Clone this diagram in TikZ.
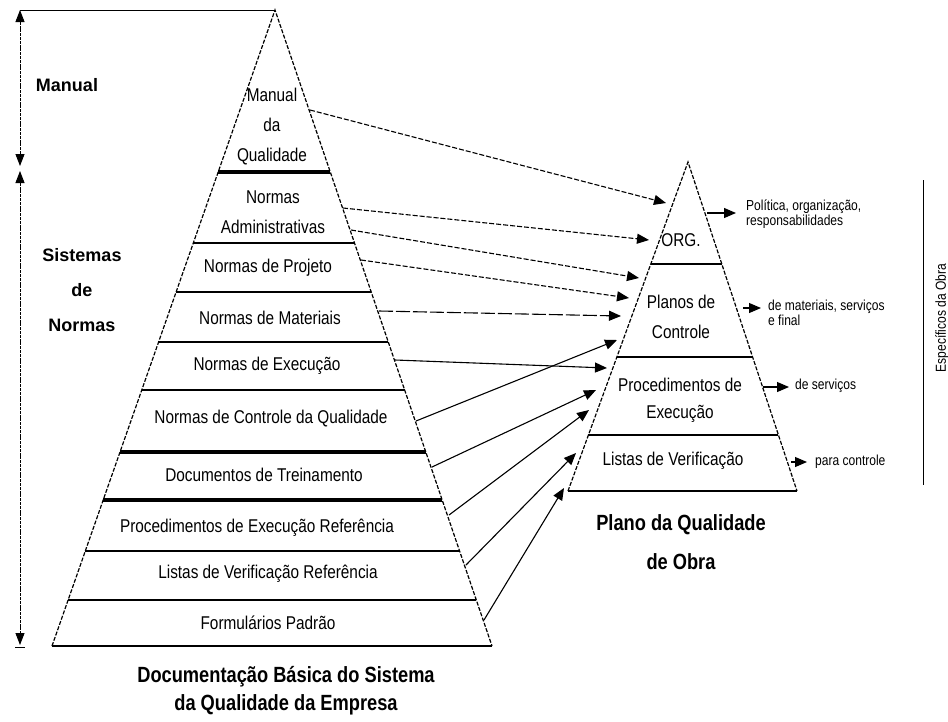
\documentclass[tikz,border=0pt]{standalone}
\usepackage{fontspec}
\setmainfont{Liberation Sans}
\newfontfamily\cond[FakeStretch=0.83]{Liberation Sans}
\usetikzlibrary{arrows.meta,calc}
\begin{document}
\begin{tikzpicture}[x=1pt,y=-1pt,
  every node/.style={inner sep=0pt},
  edge/.style={line width=1.2pt, dash pattern=on 4pt off 1.6pt},
  sep/.style={line width=1.1pt},
  heavysep/.style={line width=4pt},
  tipped/.style={-{Triangle[length=12pt,width=10pt]}},
  dlink/.style={tipped, line width=1.1pt, dash pattern=on 5pt off 2pt},
  llink/.style={tipped, line width=1.1pt, dash pattern=on 14pt off 3pt},
  slink/.style={tipped, line width=1.1pt},
  vline/.style={line width=0.9pt, dash pattern=on 3pt off 0.8pt},
  txt/.style={font=\cond\fontsize{18.5}{30}\selectfont, align=center},
  small/.style={font=\cond\fontsize{14.5}{15}\selectfont, align=left, anchor=west},
  head/.style={font=\cond\bfseries\fontsize{22}{28}\selectfont, align=center},
  side/.style={font=\bfseries\fontsize{18}{35}\selectfont, align=center},
]
\useasboundingbox[fill=white] (0,0) rectangle (948,721);

% ---------- big pyramid ----------
\coordinate (A) at (275,10);
\coordinate (BL) at (52,646);
\coordinate (BR) at (492,646);
\draw[edge] (BL) -- (A) -- (BR);
\draw[sep] (BL) -- (BR);
\newcommand\bigsep[2]{\draw[#2] ($(A)!{(#1-10)/636}!(BL)$) -- ($(A)!{(#1-10)/636}!(BR)$);}
\bigsep{172}{heavysep}
\bigsep{243}{sep}
\bigsep{292}{sep}
\bigsep{342}{sep}
\bigsep{390}{sep}
\bigsep{452}{heavysep}
\bigsep{500}{heavysep}
\bigsep{551}{sep}
\bigsep{600}{sep}

% top line and left dimension arrows
\coordinate (L0) at (20,10);
\coordinate (L1) at (20,166);
\coordinate (L2) at (20,171);
\coordinate (L3) at (20,645);
\draw[line width=1pt] (L0) -- (A);
\draw[vline, {Triangle[length=12pt,width=9pt]}-{Triangle[length=12pt,width=9pt]}] (L0) -- (L1);
\draw[vline, {Triangle[length=12pt,width=9pt]}-{Triangle[length=12pt,width=9pt]}] (L2) -- (L3);
\draw[line width=1pt] (15,647) -- (25,647);

\node[side] (manual) at (67,85) {Manual};
\node[side] (sistemas) at (82,290) {Sistemas\\de\\Normas};

% big pyramid labels
\node[txt] (mq) at (272,127) {Manual\\da\\Qualidade};
\node[txt] (nadm) at (273,212) {Normas\\Administrativas};
\node[txt] (nproj) at (268,268) {Normas de Projeto};
\node[txt] (nmat) at (270,318) {Normas de Materiais};
\node[txt] (nexe) at (267,366) {Normas de Execução};
\node[txt] (nctl) at (271,419) {Normas de Controle da Qualidade};
\node[txt] (dtre) at (264,475) {Documentos de Treinamento};
\node[txt] (pexe) at (257,528) {Procedimentos de Execução Referência};
\node[txt] (lver) at (268,574) {Listas de Verificação Referência};
\node[txt] (form) at (268,623) {Formulários Padrão};
\node[head] (title1) at (286,691) {Documentação Básica do Sistema\\da Qualidade da Empresa};

% ---------- small pyramid ----------
\coordinate (a) at (688,162);
\coordinate (bl) at (568,491);
\coordinate (br) at (797,491);
\draw[edge] (bl) -- (a) -- (br);
\draw[sep] (bl) -- (br);
\newcommand\smallsep[2]{\draw[#2] ($(a)!{(#1-162)/329}!(bl)$) -- ($(a)!{(#1-162)/329}!(br)$);}
\smallsep{264}{sep}
\smallsep{357}{sep}
\smallsep{435}{sep}

\node[txt] (org) at (681,240) {ORG.};
\node[txt] (plc) at (681,317) {Planos de\\Controle};
\node[txt,font=\cond\fontsize{18.5}{27}\selectfont] (pde) at (680,400) {Procedimentos de\\Execução};
\node[txt] (lv) at (673,461) {Listas de Verificação};
\node[head,font=\cond\bfseries\fontsize{22}{39}\selectfont] (title2) at (681,542) {Plano da Qualidade\\de Obra};

% right side notes
\coordinate (r1a) at (707,213); \coordinate (r1b) at (736,213);
\coordinate (r2a) at (743,308); \coordinate (r2b) at (761,308);
\coordinate (r3a) at (763,387); \coordinate (r3b) at (789,387);
\coordinate (r4a) at (791,462); \coordinate (r4b) at (807,462);
\draw[slink] (r1a) -- (r1b);
\draw[slink] (r2a) -- (r2b);
\draw[slink] (r3a) -- (r3b);
\draw[slink] (r4a) -- (r4b);
\node[small] (n1) at (746,214) {Política, organização,\\responsabilidades};
\node[small] (n2) at (768,313) {de materiais, serviços\\e final};
\node[small] (n3) at (795,386) {de serviços};
\node[small] (n4) at (815,462) {para controle};

\coordinate (v1) at (923,180);
\coordinate (v2) at (923,485);
\draw[line width=1pt] (v1) -- (v2);
\node[font=\cond\fontsize{14.5}{15}\selectfont, rotate=90] (esp) at (942,318) {Específicos da Obra};

% ---------- links between pyramids ----------
\coordinate (s1) at (310,110);  \coordinate (t1) at (666,203);
\coordinate (s2) at (343,208);  \coordinate (t2) at (649,240);
\coordinate (s3) at (351,230);  \coordinate (t3) at (639,278);
\coordinate (s4) at (361,260);  \coordinate (t4) at (629,298);
\coordinate (s5) at (379,311);  \coordinate (t5) at (621,316);
\coordinate (s6) at (395,360);  \coordinate (t6) at (607,368);
\coordinate (s7) at (416,421);  \coordinate (t7) at (617,340);
\coordinate (s8) at (432,467);  \coordinate (t8) at (596,390);
\coordinate (s9) at (449,515);  \coordinate (t9) at (589,410);
\coordinate (s10) at (466,565); \coordinate (t10) at (576,453);
\coordinate (s11) at (484,620); \coordinate (t11) at (564,488);
\draw[dlink] (s1) -- (t1);
\draw[dlink] (s2) -- (t2);
\draw[dlink] (s3) -- (t3);
\draw[dlink] (s4) -- (t4);
\draw[llink] (s5) -- (t5);
\draw[slink] (s6) -- (t6);
\draw[slink] (s7) -- (t7);
\draw[slink] (s8) -- (t8);
\draw[slink] (s9) -- (t9);
\draw[slink] (s10) -- (t10);
\draw[slink] (s11) -- (t11);
\end{tikzpicture}
\end{document}
